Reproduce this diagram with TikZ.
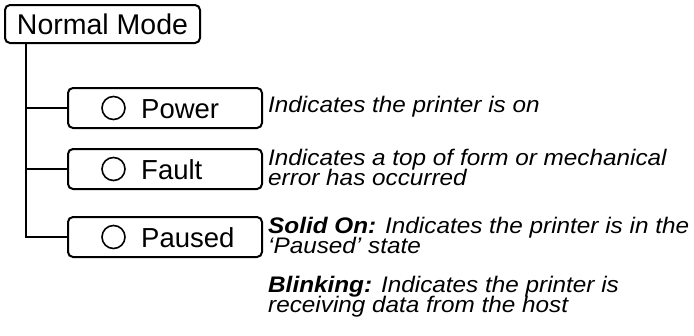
\documentclass[tikz,border=0pt]{standalone}
\usepackage{fontspec}
\setmainfont{Liberation Sans}
\newfontfamily\notefamily{Liberation Sans}[FakeStretch=1.08, Ligatures=TeX]
\usepackage{tikz}
\usetikzlibrary{positioning}
\newcommand{\panelfont}{\fontsize{27.5}{30}\selectfont}
\newcommand{\headfont}{\fontsize{28.5}{30}\selectfont}
\newcommand{\notefont}{\notefamily\fontsize{22.5}{20.2}\selectfont\itshape\lineskiplimit=-100pt}
\tikzset{
    mode box/.style={draw, rounded corners=5pt, line width=2pt, inner sep=0pt, font=\panelfont},
    head box/.style={mode box, minimum width=195pt, minimum height=38pt, font=\headfont},
    button box/.style={mode box, minimum width=194pt, minimum height=40pt},
    lamp/.style={circle, draw, line width=1.6pt, minimum size=23pt, inner sep=0pt},
    button label/.style={anchor=base west, inner sep=0pt, font=\panelfont},
    note/.style={anchor=north west, align=left, inner sep=0pt, font=\notefont},
    tree line/.style={line width=2.5pt},
    branch line/.style={line width=2pt}
}

\begin{document}
\begin{tikzpicture}[x=1pt, y=-1pt]
    \useasboundingbox (0,0) rectangle (694,335);

    % Mode header
    \node[head box] (normal) at (102.5,24) {Normal Mode};
    \coordinate (trunk) at (26,43);

    % Indicator buttons
    \node[button box] (power) at (165,108) {};
    \node[button box] (fault) at (165,169) {};
    \node[button box] (paused) at (165,237) {};

    \node[lamp] (powerlamp) at (113.5,108) {};
    \node[lamp] (faultlamp) at (113.5,169) {};
    \node[lamp] (pausedlamp) at (113.5,237) {};

    \node[button label] (powertext) at (141,118) {Power};
    \node[button label] (faulttext) at (141,179) {Fault};
    \node[button label] (pausedtext) at (141,247) {Paused};

    % Tree lines
    \draw[tree line] (normal.south -| trunk) |- (paused.west);
    \draw[branch line] (trunk |- power.west) -- (power.west);
    \draw[branch line] (trunk |- fault.west) -- (fault.west);

    % Descriptions (top = baseline - 16.5)
    \node[note] (powernote) at (268,95.5) {Indicates the printer is on};
    \node[note] (faultnote) at (268,148.5) {Indicates a top of form or mechanical\\error has occurred};
    \node[note] (pausednote) at (268,216.5) {\textbf{Solid On:} Indicates the printer is in the\\‘Paused’ state};
    \node[note] (blinknote) at (268,275.5) {\textbf{Blinking:} Indicates the printer is\\receiving data from the host};
\end{tikzpicture}
\end{document}
